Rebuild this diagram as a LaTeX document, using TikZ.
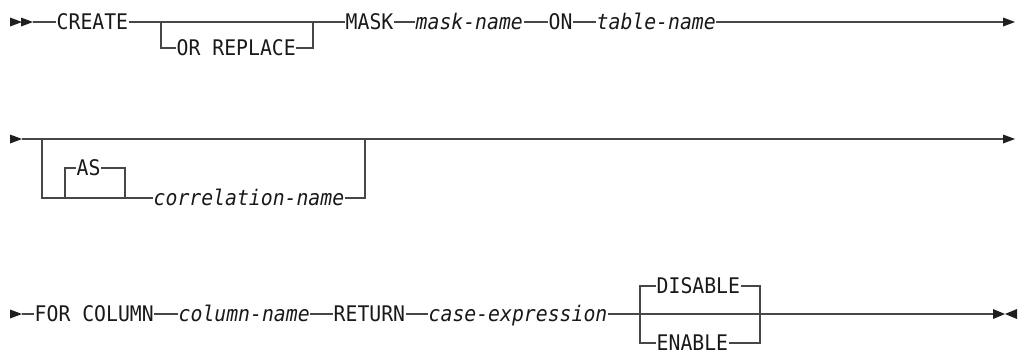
\documentclass[tikz,border=0pt]{standalone}
\usepackage{fontspec}
\newfontfamily\railfont[FakeStretch=0.92]{DejaVu Sans Mono}
\usetikzlibrary{positioning}

\tikzstyle{kw} = [font=\railfont\fontsize{21.5}{24}\selectfont, text=black!90, inner xsep=0.5pt, inner ysep=0pt, text height=15pt, text depth=0pt, anchor=west]
\tikzstyle{var} = [kw, font=\railfont\fontsize{21.5}{24}\selectfont\itshape]
\tikzstyle{rail} = [line width=1.3pt, draw=black!72]
\tikzstyle{tip} = [fill=black!88]

\begin{document}
\begin{tikzpicture}[x=1pt, y=-1pt]
\useasboundingbox (0,0) rectangle (1021,351);

% first line
\node[kw] (create) at (56,22) {CREATE};
\node[kw] (orrep) at (176,48) {OR REPLACE};
\node[kw] (mask) at (345,22) {MASK};
\node[var] (maskname) at (415,22) {mask-name};
\node[kw] (on) at (548,22) {ON};
\node[var] (tabname) at (596,22) {table-name};
\coordinate (go) at (33,22);
\coordinate (orin) at (161,22);
\coordinate (orout) at (313,22);
\coordinate (stopa) at (1003,22);

\fill[tip] (10,17.5) -- (22,22) -- (10,26.5) -- cycle;
\fill[tip] (21,17.5) -- (33,22) -- (21,26.5) -- cycle;
\draw[rail] (go) -- (create) -- (mask) -- (maskname) -- (on) -- (tabname) -- (stopa);
\draw[rail] (orin) |- (orrep) -| (orout);
\fill[tip] (1003,17.5) -- (1015,22) -- (1003,26.5) -- cycle;

% second line
\node[kw] (as) at (76,168) {AS};
\node[var] (corrname) at (153,198) {correlation-name};
\coordinate (goa) at (22,139);
\coordinate (cin) at (42,139);
\coordinate (cout) at (365,139);
\coordinate (asin) at (65,198);
\coordinate (asout) at (125,198);
\coordinate (stopb) at (1003,139);

\fill[tip] (10,134.5) -- (22,139) -- (10,143.5) -- cycle;
\draw[rail] (goa) -- (stopb);
\draw[rail] (cin) |- (corrname) -| (cout);
\draw[rail] (asin) |- (as) -| (asout);
\fill[tip] (1003,134.5) -- (1015,139) -- (1003,143.5) -- cycle;

% third line
\node[kw] (forcol) at (34,314) {FOR COLUMN};
\node[var] (colname) at (178,314) {column-name};
\node[kw] (return) at (333,314) {RETURN};
\node[var] (caseexp) at (428,314) {case-expression};
\node[kw] (disable) at (656,286) {DISABLE};
\node[kw] (enable) at (656,343) {ENABLE};
\coordinate (gob) at (22,314);
\coordinate (din) at (640,314);
\coordinate (dout) at (760,314);
\coordinate (stopc) at (993,314);

\fill[tip] (10,309.5) -- (22,314) -- (10,318.5) -- cycle;
\draw[rail] (gob) -- (forcol) -- (colname) -- (return) -- (caseexp) -- (stopc);
\draw[rail] (din) |- (disable) -| (dout);
\draw[rail] (din) |- (enable) -| (dout);
\fill[tip] (993,309) -- (1005,314) -- (993,319) -- cycle;
\fill[tip] (1017,309) -- (1005,314) -- (1017,319) -- cycle;
\end{tikzpicture}
\end{document}
